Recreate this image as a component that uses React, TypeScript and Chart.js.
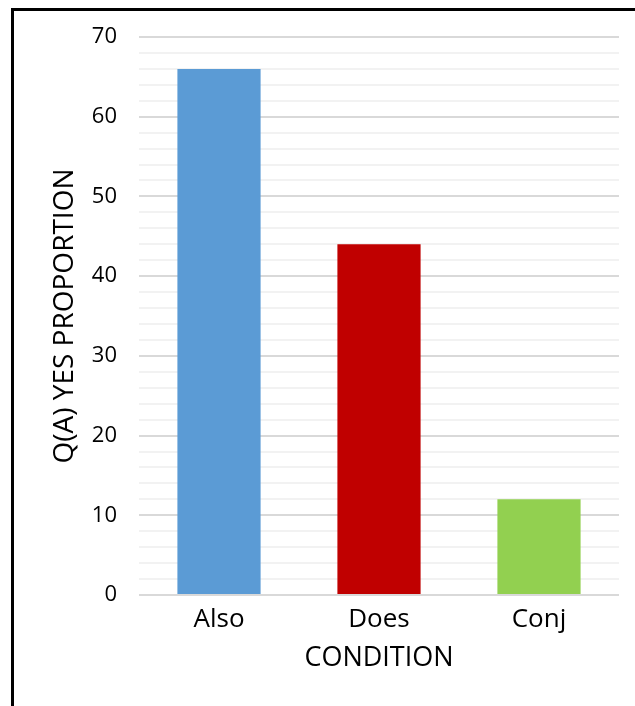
import React, { useEffect, useRef } from "react";
import { Chart, registerables } from "chart.js";

Chart.register(...registerables);

const categories = ["Also", "Does", "Conj"];
const values = [66, 44, 12];
const barColors = ["#5B9BD5", "#C00000", "#92D050"];
const yMin = 0;
const yMax = 70;
const yStep = 2;
const yLabelStep = 10;
const yTitle = "Q(A) YES PROPORTION";
const xTitle = "CONDITION";

const framePlugin = {
  id: "frame",
  beforeDraw(chart: any) {
    const ctx = chart.ctx;
    ctx.save();
    ctx.fillStyle = "#fff";
    ctx.fillRect(0, 0, chart.width, chart.height);
    ctx.fillStyle = "#000";
    ctx.fillRect(11, 8, 3, chart.height - 8);
    ctx.fillRect(11, 8, chart.width - 11, 3);
    ctx.restore();
  },
};

export default function App() {
  const ref = useRef<HTMLCanvasElement>(null);
  useEffect(() => {
    if (!ref.current) return;
    const chart = new Chart(ref.current, {
      type: "bar",
      data: {
        labels: categories,
        datasets: [
          {
            data: values,
            backgroundColor: barColors,
            borderWidth: 0,
            barPercentage: 0.52,
            categoryPercentage: 1,
          },
        ],
      },
      options: {
        animation: false,
        responsive: false,
        maintainAspectRatio: false,
        layout: { padding: { left: 0, right: 16, top: 37, bottom: 0 } },
        plugins: { legend: { display: false }, tooltip: { enabled: false } },
        scales: {
          x: {
            grid: { display: false },
            border: { display: false },
            ticks: {
              color: "#000",
              font: { family: "Open Sans", size: 26 },
              padding: 1,
              maxRotation: 0,
            },
            title: {
              display: true,
              text: xTitle,
              color: "#000",
              font: { family: "Open Sans", size: 27 },
              padding: { top: 0, bottom: 31 },
            },
            afterFit(scale: any) {
              scale.height = 706 - 595;
            },
          },
          y: {
            min: yMin,
            max: yMax,
            border: { display: false },
            grid: {
              drawTicks: false,
              lineWidth: 2,
              color: (c: any) =>
                c.tick && c.tick.value % yLabelStep === 0 ? "#d9d9d9" : "#f2f2f2",
            },
            ticks: {
              stepSize: yStep,
              autoSkip: false,
              color: "#000",
              font: { family: "Open Sans", size: 22 },
              padding: 22,
              callback: (v: any) => (Number(v) % yLabelStep === 0 ? String(v) : ""),
            },
            title: {
              display: true,
              text: yTitle,
              color: "#000",
              font: { family: "Open Sans", size: 28 },
              padding: { top: 48, bottom: 0 },
            },
            afterFit(scale: any) {
              scale.width = 139;
            },
          },
        },
      },
      plugins: [framePlugin],
    });
    return () => chart.destroy();
  }, []);
  return (
    <div style={{ position: "fixed", left: 0, top: 0, width: 635, height: 706 }}>
      <canvas ref={ref} width={635} height={706} style={{ display: "block" }} />
    </div>
  );
}
